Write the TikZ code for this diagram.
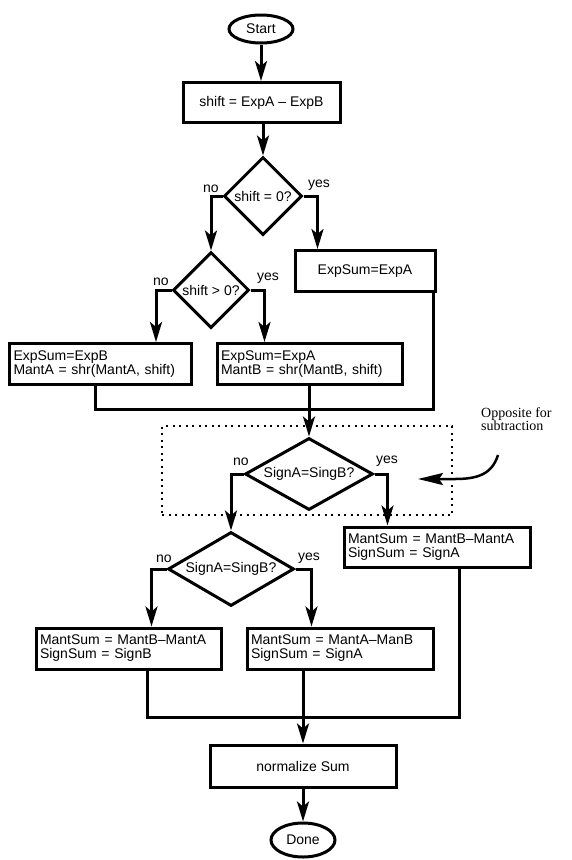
\documentclass[tikz,border=0pt]{standalone}
\usepackage{fontspec}
\setmainfont{Liberation Sans}
\newfontfamily\notefont{Liberation Serif}
\usetikzlibrary{shapes.geometric,arrows.meta,calc}
\begin{document}
\begin{tikzpicture}[x=1pt,y=-1pt,
  every node/.style={font=\fontsize{14}{14}\selectfont},
  line/.style={line width=3pt},
  arr/.style={line width=3pt,-{Stealth[length=20pt,width=12pt,inset=5pt]}},
  box/.style={draw,line width=3pt,rectangle,inner sep=0pt},
  lbox/.style={box,align=left,inner xsep=4pt},
  dia/.style={draw,line width=3pt,diamond,inner sep=0pt},
  term/.style={draw,line width=3pt,ellipse,inner sep=0pt},
  lbl/.style={anchor=base west,inner sep=0pt},
  grpbox/.style={draw,line width=2pt,dash pattern=on 2pt off 4.5pt,rectangle,inner sep=0pt},
]
\useasboundingbox[fill=white] (0,0) rectangle (571,860);

% nodes
\node[term,minimum width=64pt,minimum height=28pt] (start) at (261,29) {Start};
\node[box,minimum width=157pt,minimum height=40pt] (s1) at (261.5,102.5) {shift = ExpA – ExpB};
\node[dia,minimum width=78pt,minimum height=78pt,aspect=1] (d1) at (263,196) {shift = 0?};
\node[dia,minimum width=76pt,minimum height=76pt,aspect=1] (d2) at (211,290) {shift > 0?};
\node[box,minimum width=140pt,minimum height=41pt] (e1) at (365,271) {ExpSum=ExpA};
\node[lbox,minimum height=41pt,text width=174pt] (bA) at (100.5,364) {ExpSum=ExpB\\MantA = shr(MantA, shift)};
\node[lbox,minimum height=41pt,text width=177pt] (bB) at (309.5,364) {ExpSum=ExpA\\MantB = shr(MantB, shift)};
\node[grpbox,minimum width=290pt,minimum height=89pt] (grp) at (307,470.5) {};
\node[dia,minimum width=128pt,minimum height=72pt,aspect=1.78] (d3) at (309,474) {SignA=SingB?};
\node[lbox,minimum height=40pt,text width=178pt] (m1) at (437,547) {MantSum = MantB–MantA\\SignSum = SignA};
\node[dia,minimum width=126pt,minimum height=74pt,aspect=1.7] (d4) at (231,569) {SignA=SingB?};
\node[lbox,minimum height=41pt,text width=177pt] (m2) at (128.5,648.5) {MantSum = MantB–MantA\\SignSum = SignB};
\node[lbox,minimum height=41pt,text width=178pt] (m3) at (340,648.5) {MantSum = MantA–ManB\\SignSum = SignA};
\node[box,minimum width=186pt,minimum height=42pt] (norm) at (303,766) {normalize Sum};
\node[term,minimum width=64pt,minimum height=34pt] (done) at (303,840) {Done};

% branch labels
\node[lbl] (n1) at (203,192) {no};
\node[lbl] (y1) at (308,187) {yes};
\node[lbl] (n2) at (153,285) {no};
\node[lbl] (y2) at (257,280) {yes};
\node[lbl] (n3) at (233,465) {no};
\node[lbl] (y3) at (376,463) {yes};
\node[lbl] (n4) at (156,562) {no};
\node[lbl] (y4) at (298,560) {yes};

% note
\node[lbl,font=\notefont\fontsize{14}{13}\selectfont,align=left] (note) at (481,430) {Opposite for\\subtraction};
\coordinate (nstart) at (498,455);
\coordinate (ntip) at (418,479);
\draw[line width=2.5pt,-{Stealth[length=25pt,width=12pt,inset=4pt]}]
  (nstart) .. controls (492,474) and (478,479) .. (455,479) -- (ntip);

% junctions
\coordinate (j1) at (309,409);
\coordinate (j2) at (303,717);

% connectors
\draw[arr] (start.south) -- (start.south |- s1.north);
\draw[arr] (s1.south -| d1.north) -- (d1.north);
\draw[arr] (d1.west) -| (d2.north);
\draw[arr] (d1.east) -| ([xshift=24pt]e1.north west);
\draw[arr] (d2.west) -| ([xshift=148pt]bA.north west);
\draw[arr] (d2.east) -| ([xshift=49pt]bB.north west);
\draw[line] ([xshift=87pt]bA.south west) |- (j1) -| ([xshift=-3pt]e1.south east);
\draw[arr] (bB.south -| d3.north) -- (d3.north);
\draw[arr] (d3.west) -| (d4.north);
\draw[arr] (d3.east) -| ([xshift=45pt]m1.north west);
\draw[arr] (d4.west) -| ([xshift=117pt]m2.north west);
\draw[arr] (d4.east) -| ([xshift=66pt]m3.north west);
\draw[line] ([xshift=113pt]m2.south west) |- (j2) -| ([xshift=117pt]m1.south west);
\draw[arr] (m3.south -| norm.north) -- (norm.north);
\draw[arr] (norm.south) -- (done.north);
\end{tikzpicture}
\end{document}
